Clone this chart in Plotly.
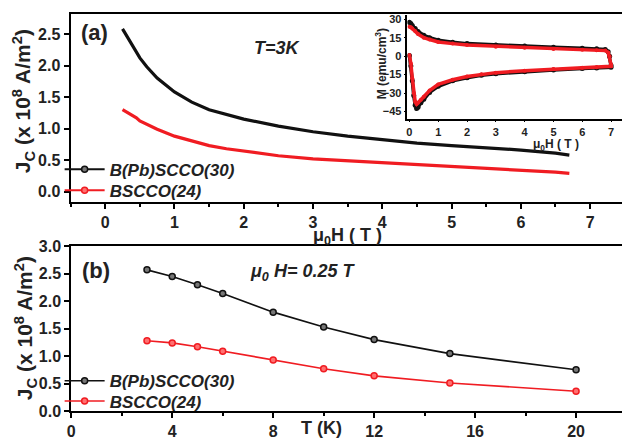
import plotly.graph_objects as go

W, H = 622, 445

# ---- panel (a): Jc vs applied field at T = 3 K ----
field_a = [0.25, 0.35, 0.45, 0.5, 0.6, 0.75, 1.0, 1.25, 1.5, 1.75, 2.0,
           2.5, 3.0, 3.5, 4.0, 4.5, 5.0, 5.5, 6.0, 6.5, 6.7]
jc_bpb_a = [2.58, 2.40, 2.22, 2.12, 1.98, 1.80, 1.58, 1.42, 1.30, 1.22, 1.15,
            1.04, 0.95, 0.88, 0.82, 0.77, 0.73, 0.70, 0.66, 0.61, 0.58]
jc_bs_a = [1.30, 1.24, 1.17, 1.12, 1.07, 0.99, 0.88, 0.80, 0.73, 0.68, 0.64,
           0.57, 0.52, 0.49, 0.46, 0.43, 0.40, 0.38, 0.35, 0.31, 0.29]

# ---- inset: M-H loops ----
loop_h = [0.0, 0.05, 0.1, 0.15, 0.2, 0.25, 0.3, 0.4, 0.5, 0.7, 1.0, 1.5, 2.0,
          2.5, 3.0, 4.0, 5.0, 6.0, 6.5, 7.0,
          7.0, 6.95, 6.9, 6.8, 6.5, 6.0, 5.0, 4.0, 3.0, 2.0, 1.5, 1.0, 0.7,
          0.5, 0.3, 0.2, 0.1, 0.05, 0.0]
loop_m_bpb = [0.5, -8, -20, -32, -40, -42.5, -41.5, -38, -35, -29.5, -24.5, -20, -17.5,
              -15.5, -14.3, -12.6, -11.2, -10.1, -9.6, -9.0,
              -7.5, 0.0, 3.5, 5.5, 6.0, 6.5, 7.3, 8.3, 9.0, 10.2, 11.3, 13.0, 15.0,
              17.0, 20.0, 22.5, 25.0, 26.5, 27.5]
loop_m_bs = [1.0, -6, -18, -30, -37, -39, -38, -35.5, -33, -28, -23, -19.2, -16.6,
             -14.8, -13.4, -11.8, -10.5, -9.5, -9.0, -8.3,
             -7.0, 0.0, 3.0, 4.5, 4.8, 5.3, 5.8, 6.8, 7.7, 9.0, 10.2, 11.6, 13.5,
             15.0, 18.0, 20.5, 22.5, 23.5, 24.0]

# ---- panel (b): Jc vs temperature at 0.25 T ----
temp_b = [3, 4, 5, 6, 8, 10, 12, 15, 20]
jc_bpb_b = [2.57, 2.45, 2.30, 2.14, 1.80, 1.53, 1.30, 1.045, 0.75]
jc_bs_b = [1.28, 1.24, 1.17, 1.09, 0.93, 0.77, 0.64, 0.51, 0.36]

names = ["B(Pb)SCCO(30)", "BSCCO(24)"]
BLACK = "#111111"
RED = "#f01c22"
FONT = "Liberation Sans"


def px_x(p):
    return p / W


def px_y(p):
    return 1 - p / H


fig = go.Figure()

# panel (a) curves
for ys, col in ((jc_bpb_a, BLACK), (jc_bs_a, RED)):
    fig.add_trace(go.Scatter(x=field_a, y=ys, mode="lines", line=dict(color=col, width=3.2),
                             showlegend=False, xaxis="x", yaxis="y"))
# legend entries for panel (a), one legend box per entry
for nm, col, mk, lg in ((names[0], BLACK, "#777777", "legend"), (names[1], RED, "#ff7070", "legend2")):
    fig.add_trace(go.Scatter(x=[None], y=[None], mode="lines+markers", name=nm,
                             line=dict(color=col, width=2),
                             marker=dict(symbol="circle", size=6, color=mk, line=dict(color=col, width=1.5)),
                             xaxis="x", yaxis="y", legend=lg))

# inset loops
for ys, col, sz in ((loop_m_bpb, BLACK, 5), (loop_m_bs, RED, 4)):
    fig.add_trace(go.Scatter(x=loop_h, y=ys, mode="lines+markers",
                             line=dict(color=col, width=3.5),
                             marker=dict(color=col, size=sz),
                             showlegend=False, xaxis="x3", yaxis="y3"))

# panel (b)
for nm, ys, col, mk, lg in ((names[0], jc_bpb_b, BLACK, "#777777", "legend3"),
                            (names[1], jc_bs_b, RED, "#ff7070", "legend4")):
    fig.add_trace(go.Scatter(x=temp_b, y=ys, mode="lines+markers", name=nm,
                             line=dict(color=col, width=1.6),
                             marker=dict(symbol="circle", size=6, color=mk, line=dict(color=col, width=1.5)),
                             xaxis="x2", yaxis="y2", legend=lg))

tickfont = dict(family=FONT, size=16, color="#222222", weight="bold")
axis_common = dict(showline=True, linecolor="black", linewidth=2, ticks="outside",
                   ticklen=5, tickwidth=2, tickcolor="black", showgrid=False,
                   zeroline=False, tickfont=tickfont)

inset_font = dict(family=FONT, size=11, color="#222222", weight="bold")
inset_common = dict(showline=True, linecolor="black", linewidth=1.5, ticks="outside",
                    ticklen=2, tickwidth=1.2, tickcolor="black", showgrid=False,
                    zeroline=False, tickfont=inset_font)

legend_font = dict(family=FONT, size=17, color="#222222", weight="bold", style="italic")


def legend_at(ypx):
    return dict(x=px_x(56), y=px_y(ypx), xanchor="left", yanchor="middle",
                bgcolor="rgba(0,0,0,0)", itemwidth=40, font=legend_font)


fig.update_layout(
    width=W, height=H,
    margin=dict(l=0, r=0, t=0, b=0),
    paper_bgcolor="white", plot_bgcolor="rgba(0,0,0,0)",
    xaxis=dict(domain=[px_x(67), 1], range=[-0.5, 7.46], dtick=1, mirror=True,
               minor=dict(dtick=0.5, ticks="outside", ticklen=3, tickwidth=2, tickcolor="black"),
               anchor="y", **axis_common),
    yaxis=dict(domain=[px_y(202), px_y(6)], range=[-0.168, 2.82], dtick=0.5,
               tickformat=".1f", anchor="x", **axis_common),
    xaxis2=dict(domain=[px_x(67.7), 1], range=[0, 21.82], dtick=4, mirror=True,
                minor=dict(dtick=2, ticks="outside", ticklen=3, tickwidth=2, tickcolor="black"),
                anchor="y2", **axis_common),
    yaxis2=dict(domain=[px_y(419), px_y(247.7)], range=[0, 3], dtick=0.5,
                tickformat=".1f", anchor="x2", **axis_common),
    xaxis3=dict(domain=[px_x(406), 1], range=[-0.07, 7.38], dtick=1, anchor="y3", **inset_common),
    yaxis3=dict(domain=[px_y(115), px_y(7)], range=[-50.8, 33.7], dtick=15, anchor="x3", **inset_common),
    legend=legend_at(168),
    legend2=legend_at(190),
    legend3=legend_at(388),
    legend4=legend_at(409),
)

ann_bold = dict(family=FONT, color="#222222", weight="bold")
ytitle = "J<sub>C</sub> (x 10<sup>8</sup> A/m<sup>2</sup>)"
annotations = [
    dict(x=px_x(19), y=px_y(97), text=ytitle, textangle=-90, font=dict(size=21, **ann_bold)),
    dict(x=px_x(21), y=px_y(333), text=ytitle, textangle=-90, font=dict(size=21, **ann_bold)),
    dict(x=px_x(91), y=px_y(25), text="(a)", font=dict(size=22, **ann_bold)),
    dict(x=px_x(93), y=px_y(273), text="(b)", font=dict(size=22, **ann_bold)),
    dict(x=px_x(275), y=px_y(42), text="T=3K", font=dict(size=18, style="italic", **ann_bold)),
    dict(x=px_x(300), y=px_y(275), text="μ<sub>0</sub> H= 0.25 T", font=dict(size=18, style="italic", **ann_bold)),
    dict(x=px_x(346), y=px_y(238), text="μ<sub>0</sub>H ( T )", font=dict(size=18, **ann_bold)),
    dict(x=px_x(320), y=px_y(437), text="T (K)", font=dict(size=18, **ann_bold)),
    dict(x=px_x(556), y=px_y(142), text="μ<sub>0</sub>H ( T )", font=dict(size=12, **ann_bold)),
    dict(x=px_x(379), y=px_y(58), text="M (emu/cm<sup>3</sup>)", textangle=-90, font=dict(size=12, **ann_bold)),
]
for a in annotations:
    a.update(xref="paper", yref="paper", showarrow=False, xanchor="center", yanchor="middle")
fig.update_layout(annotations=annotations)

fig.write_html("out.html")
